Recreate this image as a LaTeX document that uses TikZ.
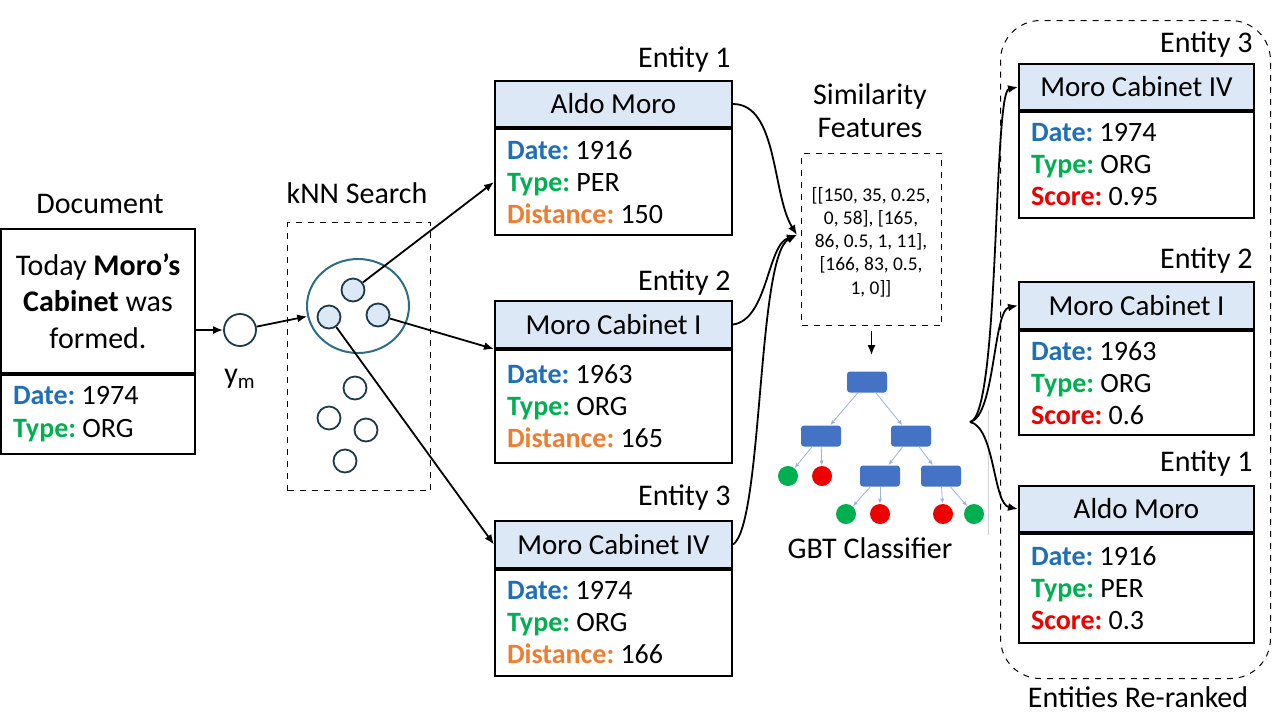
\documentclass[tikz,border=0pt]{standalone}
\usepackage{fontspec}
\setmainfont{Carlito}
\usetikzlibrary{arrows.meta,shapes.geometric}
\definecolor{cdate}{HTML}{1F6FB8}
\definecolor{ctype}{HTML}{00B050}
\definecolor{cdist}{HTML}{ED7D31}
\definecolor{cscore}{HTML}{EE0000}
\definecolor{hdrfill}{HTML}{DCE8F5}
\definecolor{treeblue}{HTML}{4472C4}
\definecolor{treeedge}{HTML}{9DB3DC}
\definecolor{tgreen}{HTML}{00B050}
\definecolor{tred}{HTML}{EE0000}
\definecolor{ellteal}{HTML}{2E6E84}
\definecolor{navy}{HTML}{1C3A4A}
\newcommand\cdl[1]{\textcolor{cdate}{\textbf{#1}}}
\newcommand\ctl[1]{\textcolor{ctype}{\textbf{#1}}}
\newcommand\cxl[1]{\textcolor{cdist}{\textbf{#1}}}
\newcommand\csl[1]{\textcolor{cscore}{\textbf{#1}}}
\frenchspacing
\tikzset{
  hdr/.style={draw, line width=1pt, fill=hdrfill, minimum width=118.5pt, inner sep=0pt, anchor=north west, font=\fontsize{14.5}{17}\selectfont},
  bodybox/.style={draw, line width=1pt, inner xsep=6pt, inner ysep=0pt, text width=106.5pt, align=flush left, anchor=north west, font=\fontsize{14}{16}\selectfont},
  lbl/.style={inner sep=0pt, font=\fontsize{15}{18}\selectfont},
  dbox/.style={draw, dashed, line width=0.5pt, inner sep=0pt},
  arr/.style={line width=0.9pt, -{Latex[length=5pt,width=4pt]}},
  pt/.style={circle, draw=navy, line width=0.9pt, minimum size=11.5pt, inner sep=0pt},
  ptin/.style={pt, fill=hdrfill},
  tnode/.style={rectangle, rounded corners=1.5pt, fill=treeblue, minimum width=20pt, minimum height=10.5pt, inner sep=0pt},
  leafg/.style={circle, fill=tgreen, minimum size=10pt, inner sep=0pt},
  leafr/.style={circle, fill=tred, minimum size=10pt, inner sep=0pt},
  tedge/.style={draw=treeedge, line width=0.4pt, -{Latex[length=2.5pt,width=2pt]}}
}
\begin{document}
\begin{tikzpicture}[x=0.5pt, y=-0.5pt]
\useasboundingbox (0,0) rectangle (1280,720);

% Document
\node[lbl] (doclbl) at (100,204) {Document};
\node[draw, line width=1pt, minimum width=97pt, minimum height=72pt, inner xsep=5pt, text width=87pt, align=flush center, anchor=north west, font=\fontsize{15}{18.2}\selectfont] (doc) at (0,228) {Today \textbf{Moro’s}\\ \textbf{Cabinet} was\\ formed.};
\node[draw, line width=1pt, minimum height=39.5pt, inner xsep=6pt, inner ysep=0pt, text width=85pt, align=flush left, anchor=north west, font=\fontsize{14}{16.5}\selectfont] (docb) at (doc.south west) {\cdl{Date:} 1974\\ \ctl{Type:} ORG};

% y_m
\node[circle, draw=navy, line width=0.9pt, minimum size=16pt, inner sep=0pt] (ym) at (240,330) {};
\node[lbl] (ymlbl) at (240,379) {y\textsubscript{m}};
\draw[arr] (doc.east |- ym) -- (ym);

% kNN
\node[lbl] (knnlbl) at (357,193) {kNN Search};
\node[dbox, minimum width=71.5pt, minimum height=134pt, anchor=north west] (knn) at (287,222) {};
\node[ellipse, draw=ellteal, line width=1pt, minimum width=51pt, minimum height=47pt, inner sep=0pt] (ell) at (358,306) {};
\node[ptin] (c1) at (353,290) {};
\node[ptin] (c2) at (329,317) {};
\node[ptin] (c3) at (378,315) {};
\node[pt] (o1) at (355,388) {};
\node[pt] (o2) at (329,418) {};
\node[pt] (o3) at (366,430) {};
\node[pt] (o4) at (345,461) {};
\draw[arr] (ym) -- (ell);

% Left entities
\node[lbl, anchor=east] (l1lbl) at (731,60) {Entity 1};
\node[hdr, minimum height=23pt] (e1h) at (494,80) {Aldo Moro};
\node[bodybox, minimum height=53pt] (e1b) at (e1h.south west) {\cdl{Date:} 1916\\ \ctl{Type:} PER\\ \cxl{Distance:} 150};

\node[lbl, anchor=east] (l2lbl) at (731,283) {Entity 2};
\node[hdr, minimum height=23.5pt] (e2h) at (494,300) {Moro Cabinet I};
\node[bodybox, minimum height=56.5pt] (e2b) at (e2h.south west) {\cdl{Date:} 1963\\ \ctl{Type:} ORG\\ \cxl{Distance:} 165};

\node[lbl, anchor=east] (l3lbl) at (731,498) {Entity 3};
\node[hdr, minimum height=23.5pt] (e3h) at (494,520) {Moro Cabinet IV};
\node[bodybox, minimum height=53pt] (e3b) at (e3h.south west) {\cdl{Date:} 1974\\ \ctl{Type:} ORG\\ \cxl{Distance:} 166};

\draw[arr] (c1) -- (e1b.west);
\draw[arr] (c3) -- (e2b.north west);
\draw[arr] (c2) -- (e3h.west);

% Similarity features
\node[lbl, align=center, font=\fontsize{15}{16.5}\selectfont] (simlbl) at (870,111) {Similarity\\ Features};
\node[dbox, minimum width=70pt, minimum height=86pt, anchor=north west] (sim) at (801,153) {};
\node[align=center, inner sep=0pt, font=\fontsize{9.7}{11.6}\selectfont] (simtxt) at (871,242) {{[}[150, 35, 0.25,\\ 0, 58], {[}165,\\ 86, 0.5, 1, 11],\\ {[}166, 83, 0.5,\\ 1, 0]]};
\coordinate (sfin) at (797,235);
\draw[arr] (e1h.east) .. controls +(45,0) and +(-25,-40) .. (sfin);
\draw[arr] (e2h.east) .. controls +(35,-5) and +(-30,10) .. (sfin);
\draw[arr] (e3h.east) .. controls +(30,-20) and +(-40,20) .. (sfin);

% GBT tree
\node[tnode] (root) at (867,382) {};
\node[tnode] (t2a) at (821,436) {};
\node[tnode] (t2b) at (911,436) {};
\node[leafg] (g1) at (788,476) {};
\node[leafr] (r1) at (822,476) {};
\node[tnode] (t3a) at (880,476) {};
\node[tnode] (t3b) at (941,476) {};
\node[leafg] (g2) at (846,514) {};
\node[leafr] (r2) at (880,514) {};
\node[leafr] (r3) at (943,514) {};
\node[leafg] (g3) at (974,514) {};
\foreach \a/\b in {root/t2a, root/t2b, t2a/g1, t2a/r1, t2b/t3a, t2b/t3b, t3a/g2, t3a/r2, t3b/r3, t3b/g3}
  \draw[tedge] (\a) -- (\b);
\draw[arr, shorten <=2.5pt, shorten >=8pt] (sim.south) -- (sim.south |- root.north);
\coordinate (edgetop) at (988,410);
\coordinate (edgebot) at (988,535);
\draw[gray!35, line width=0.4pt] (edgetop) -- (edgebot);
\node[lbl] (gbtlbl) at (870,548) {GBT Classifier};

% Right group
\node[draw, dashed, line width=0.5pt, rounded corners=20pt, minimum width=135pt, minimum height=329pt, anchor=north west, inner sep=0pt] (grp) at (1000,20) {};
\node[lbl] (grplbl) at (1138,697) {Entities Re-ranked};

\node[lbl, anchor=east] (rl3) at (1253,45) {Entity 3};
\node[hdr, minimum width=117.5pt, minimum height=23pt] (r3h) at (1018,63) {Moro Cabinet IV};
\node[bodybox, text width=105.5pt, minimum height=53pt] (r3b) at (r3h.south west) {\cdl{Date:} 1974\\ \ctl{Type:} ORG\\ \csl{Score:} 0.95};

\node[lbl, anchor=east] (rl2) at (1253,261) {Entity 2};
\node[hdr, minimum width=117.5pt, minimum height=23.5pt] (r2h) at (1018,281) {Moro Cabinet I};
\node[bodybox, text width=105.5pt, minimum height=52pt] (r2b) at (r2h.south west) {\cdl{Date:} 1963\\ \ctl{Type:} ORG\\ \csl{Score:} 0.6};

\node[lbl, anchor=east] (rl1) at (1253,464) {Entity 1};
\node[hdr, minimum width=117.5pt, minimum height=23pt] (r1h) at (1018,485) {Aldo Moro};
\node[bodybox, text width=105.5pt, minimum height=54.5pt] (r1b) at (r1h.south west) {\cdl{Date:} 1916\\ \ctl{Type:} PER\\ \csl{Score:} 0.3};

\coordinate (gout) at (970,422);
\draw[arr] (gout) .. controls +(30,-5) and +(-25,5) .. (r3h.west);
\draw[arr] (gout) .. controls +(25,-5) and +(-25,5) .. (r2h.west);
\draw[arr] (gout) .. controls +(25,5) and +(-25,-5) .. (r1h.west);
\end{tikzpicture}
\end{document}
